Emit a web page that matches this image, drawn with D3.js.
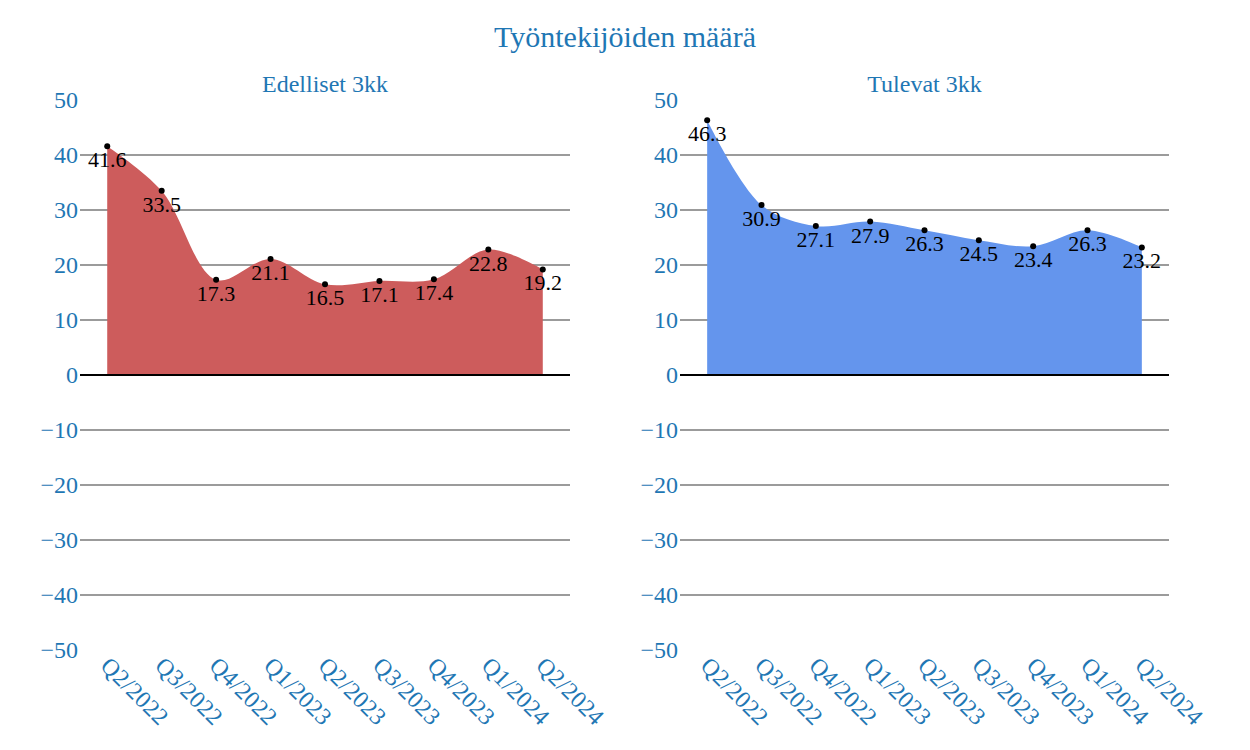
<!DOCTYPE html>
<html><head><meta charset="utf-8">
<script src="https://cdn.jsdelivr.net/npm/d3@7"></script>
<style>body{margin:0;background:#fff}</style>
</head><body>
<svg id="c" width="1250" height="750"></svg>
<script>
const categories = ["Q2/2022","Q3/2022","Q4/2022","Q1/2023","Q2/2023","Q3/2023","Q4/2023","Q1/2024","Q2/2024"];
const edelliset = [41.6,33.5,17.3,21.1,16.5,17.1,17.4,22.8,19.2];
const tulevat = [46.3,30.9,27.1,27.9,26.3,24.5,23.4,26.3,23.2];
const yTicks = [-50,-40,-30,-20,-10,0,10,20,30,40,50];
const titleText = "Työntekijöiden määrä";
const panels = [
  {name:"Edelliset 3kk", values:edelliset, color:"#cd5c5c", x0:80, x1:570},
  {name:"Tulevat 3kk", values:tulevat, color:"#6495ed", x0:680, x1:1169}
];
const txtColor = "#1f77b4";
const font = "Liberation Serif, Times New Roman, serif";
const svg = d3.select("#c");
svg.append("text").attr("x",625).attr("y",47).attr("text-anchor","middle")
  .attr("font-family",font).attr("font-size",30).attr("fill",txtColor).text(titleText);

const y = d3.scaleLinear().domain([-50,50]).range([650,100]);

panels.forEach(p=>{
  const g = svg.append("g");
  const x = d3.scalePoint().domain(categories).range([p.x0,p.x1]).padding(0.5);
  g.selectAll("line.grid").data(yTicks.filter(t=>t!==0 && Math.abs(t)<50)).join("line")
    .attr("x1",p.x0).attr("x2",p.x1).attr("y1",d=>y(d)).attr("y2",d=>y(d))
    .attr("stroke","#7a7a7a").attr("stroke-width",1.6);
  const area = d3.area().x((d,i)=>x(categories[i])).y0(y(0)).y1(d=>y(d)).curve(d3.curveCatmullRom.alpha(0.5));
  g.append("path").datum(p.values).attr("d",area).attr("fill",p.color);
  g.append("line").attr("x1",p.x0).attr("x2",p.x1).attr("y1",y(0)).attr("y2",y(0))
    .attr("stroke","#000").attr("stroke-width",2);
  g.selectAll("text.yt").data(yTicks).join("text")
    .attr("x",p.x0-2).attr("y",d=>y(d)+8).attr("text-anchor","end")
    .attr("font-family",font).attr("font-size",24).attr("fill",txtColor)
    .text(d=>d3.format("")(d));
  g.selectAll("circle").data(p.values).join("circle")
    .attr("cx",(d,i)=>x(categories[i])).attr("cy",d=>y(d)).attr("r",3).attr("fill","#000");
  g.selectAll("text.dl").data(p.values).join("text")
    .attr("x",(d,i)=>x(categories[i])).attr("y",d=>y(d)+21).attr("text-anchor","middle")
    .attr("font-family",font).attr("font-size",22).attr("fill","#000")
    .text(d=>d.toFixed(1));
  g.append("text").attr("x",(p.x0+p.x1)/2).attr("y",92).attr("text-anchor","middle")
    .attr("font-family",font).attr("font-size",24).attr("fill",txtColor).text(p.name);
  g.selectAll("text.xl").data(categories).join("text")
    .attr("transform",d=>`translate(${x(d)-8},${667}) rotate(45)`)
    .attr("text-anchor","start")
    .attr("font-family",font).attr("font-size",24).attr("fill",txtColor).text(d=>d);
});
</script>
</body></html>
